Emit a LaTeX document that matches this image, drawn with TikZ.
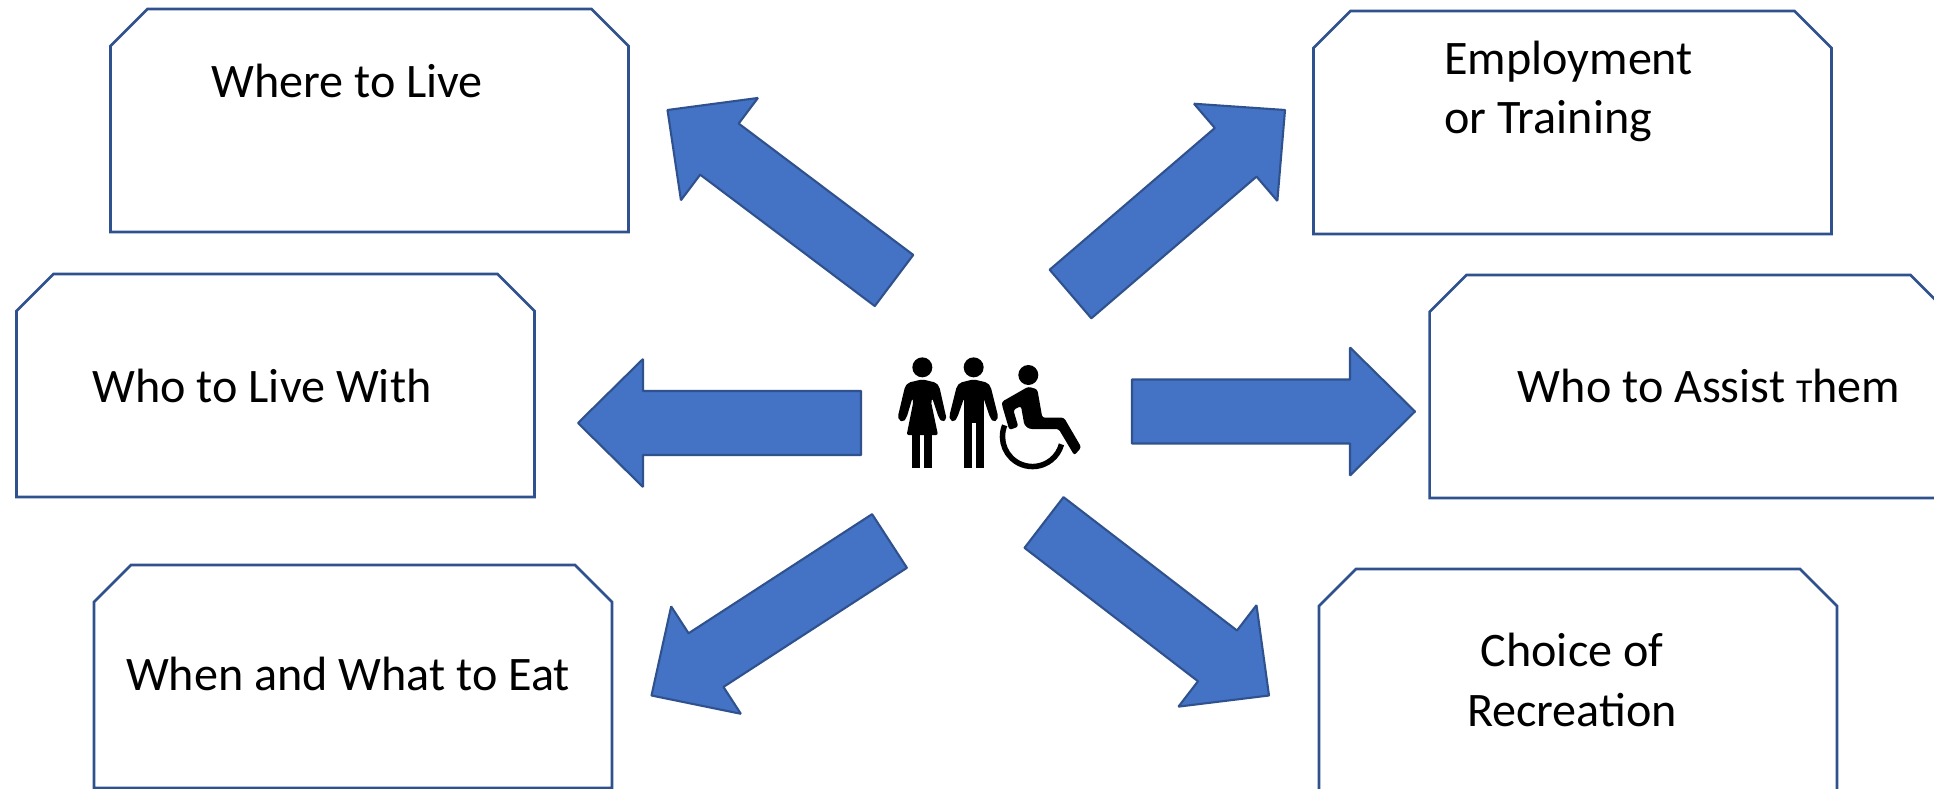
\documentclass[tikz,border=0pt]{standalone}
\usepackage{xcolor}
\usepackage{fontspec}
\setmainfont{Carlito}
\usepackage{tikz}
\usetikzlibrary{calc}
\definecolor{arrowblue}{HTML}{4472C4}
\definecolor{edgeblue}{HTML}{2F528F}
\tikzset{
  choice/.style={rectangle, minimum width=10.36cm, minimum height=4.46cm, inner sep=0pt, outer sep=0pt},
  choiceline/.style={draw=edgeblue, line width=1.5pt, fill=white, line join=miter},
  txt/.style={font=\fontsize{27.4}{34}\selectfont, align=center, inner sep=0pt},
  blockarrow/.style={draw=edgeblue, line width=1.2pt, fill=arrowblue, line join=bevel},
  icon/.style={fill=black, draw=none},
}
% outline of a choice node, top corners cut
\newcommand{\chamfer}[1]{
  \draw[choiceline] (#1.south west) -- ($(#1.north west)+(0,37)$) -- ($(#1.north west)+(37,0)$)
    -- ($(#1.north east)+(-37,0)$) -- ($(#1.north east)+(0,37)$) -- (#1.south east) -- cycle;
}
% block arrow from tail to tip: shaft 64 wide, head 128 wide
\newcommand{\blockarrow}[2]{
  \coordinate (neck) at ($(#2)!1.3cm!(#1)$);
  \draw[blockarrow] ($(#1)!0.64cm!90:(#2)$) -- ($(neck)!0.64cm!-90:(#1)$) -- ($(neck)!1.28cm!-90:(#1)$) -- (#2)
    -- ($(neck)!1.28cm!90:(#1)$) -- ($(neck)!0.64cm!90:(#1)$) -- ($(#1)!0.64cm!-90:(#2)$) -- cycle;
}
\begin{document}
\begin{tikzpicture}[x=0.02cm, y=-0.02cm]
\path[use as bounding box, clip] (0,0) rectangle (1934,788);
\fill[white] (0,0) rectangle (1934,788);

\node[choice] (live) at (369.5,120.5) {};
\node[choice] (work) at (1572.5,122.5) {};
\node[choice] (mates) at (275.5,385.5) {};
\node[choice] (assist) at (1688.5,386.5) {};
\node[choice] (food) at (353,676.5) {};
\node[choice] (fun) at (1578,680.5) {};
\chamfer{live}
\chamfer{work}
\chamfer{mates}
\chamfer{assist}
\chamfer{food}
\chamfer{fun}

\node[txt] (liveText) at (347,81) {Where to Live};
\node[txt, align=left, anchor=west] (workText) at (1444,91.5) {Employment\\or Training};
\node[txt] (matesText) at (262,386) {Who to Live With};
\node[txt] (assistText) at (1709,386) {Who to Assist {\fontsize{19}{23}\selectfont T}hem};
\node[txt] (foodText) at (348,674) {When and What to Eat};
\node[txt] (funText) at (1572,680) {Choice of\\Recreation};

% arrow ends
\coordinate (tailLive) at (894,280.5);
\coordinate (tipLive) at (667.5,110);
\coordinate (tailWork) at (1070.5,294);
\coordinate (tipWork) at (1285,110);
\coordinate (tailMates) at (861,423);
\coordinate (tipMates) at (578,423);
\coordinate (tailAssist) at (1132,411.5);
\coordinate (tipAssist) at (1415,411.5);
\coordinate (tailFood) at (889.5,541);
\coordinate (tipFood) at (651.5,695.5);
\coordinate (tailFun) at (1044,522.5);
\coordinate (tipFun) at (1269,695.5);

\blockarrow{tailLive}{tipLive}
\blockarrow{tailWork}{tipWork}
\blockarrow{tailMates}{tipMates}
\blockarrow{tailAssist}{tipAssist}
\blockarrow{tailFood}{tipFood}
\blockarrow{tailFun}{tipFun}

% people in the middle, coordinates in thirds of a pixel
\begin{scope}[shift={(860,330)}, x=0.006667cm, y=-0.006667cm]
\fill[icon] (187,112) circle[radius=0.2cm];
\fill[icon, rounded corners=0.04cm] (187,148) -- (145,158) -- (135,170) -- (114,258) -- (116,270) -- (130,276) -- (140,262) -- (157,205) -- (160,215) -- (140,315) -- (234,315) -- (213,215) -- (217,205) -- (236,262) -- (246,276) -- (260,268) -- (238,170) -- (228,158) -- cycle;
\fill[icon] (157,312) rectangle (181,415);
\fill[icon] (193,312) rectangle (217,415);
\fill[icon] (341,112) circle[radius=0.2cm];
\fill[icon] (312,170) rectangle (371,280);
\fill[icon] (312,270) rectangle (335,415);
\fill[icon] (348,270) rectangle (371,415);
\fill[icon, rounded corners=0.04cm] (341,148) -- (382,158) -- (392,170) -- (414,258) -- (412,270) -- (400,276) -- (390,262) -- (371,205) -- (312,205) -- (292,262) -- (282,276) -- (270,270) -- (268,258) -- (290,170) -- (300,158) -- cycle;
\fill[icon] (505,135) circle[radius=0.2cm];
\fill[icon, rounded corners=0.05cm] (426,215) -- (505,170) -- (532,178) -- (547,263) -- (612,263) -- (664,352) -- (643,376) -- (596,297) -- (508,297) -- (493,285) -- (483,228) -- (460,240) -- (475,290) -- (448,300) -- (426,225) -- cycle;
\draw[line width=0.11cm] (434,286) arc[start angle=158, end angle=345, radius=0.6cm];
\end{scope}
\end{tikzpicture}
\end{document}
